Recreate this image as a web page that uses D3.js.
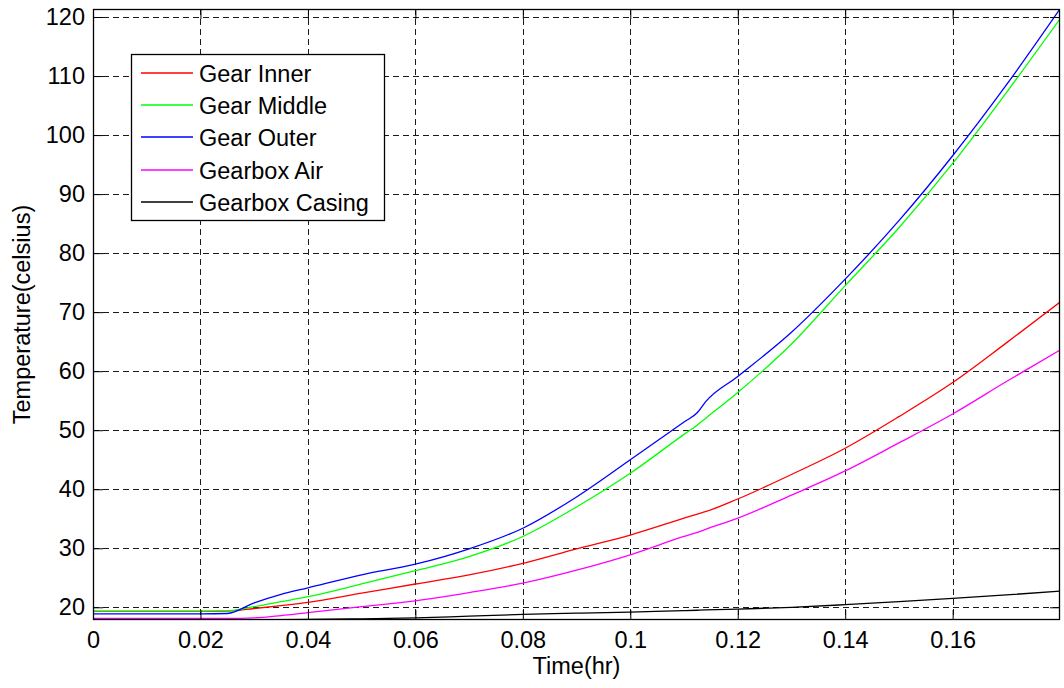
<!DOCTYPE html>
<html>
<head>
<meta charset="utf-8">
<script src="https://cdn.jsdelivr.net/npm/d3@7"></script>
<style>
  html, body { margin: 0; padding: 0; background: #fff; }
  svg { display: block; }
  text { font-family: "Liberation Sans", Arial, Helvetica, sans-serif; fill: #000; }
</style>
</head>
<body>
<svg id="chart" width="1064" height="688"></svg>
<script>
// Sample times (hours) shared by all temperature traces
const timeHr = [0, 0.01, 0.02, 0.025, 0.03, 0.035, 0.04, 0.05, 0.06, 0.07, 0.08, 0.09,
  0.1, 0.11, 0.1125, 0.114, 0.12, 0.13, 0.14, 0.15, 0.16, 0.17, 0.18];

// Temperatures (celsius)
const gearInner = [19.3, 19.3, 19.3, 19.35, 19.8, 20.3, 20.85, 22.4, 23.95, 25.5, 27.45, 29.9,
  32.25, 35.1, 35.8, 36.2, 38.35, 42.5, 46.95, 52.3, 58.07, 64.8, 71.7];
const gearMiddle = [19.37, 19.37, 19.37, 19.4, 20.1, 20.95, 21.8, 23.95, 26.2, 28.6, 32.0, 37.0,
  42.7, 49.3, 50.9, 52.0, 56.4, 64.6, 74.5, 84.3, 95.2, 107.2, 119.7];
const gearOuter = [18.9, 18.9, 18.9, 18.95, 20.75, 22.2, 23.3, 25.5, 27.3, 29.9, 33.4, 38.7,
  45.0, 51.4, 53.0, 54.8, 59.1, 66.6, 75.6, 85.5, 96.5, 108.5, 121.4];
const gearboxAir = [18.1, 18.1, 18.1, 18.1, 18.2, 18.6, 19.1, 20.1, 21.1, 22.5, 24.1, 26.3,
  28.9, 32.0, 32.7, 33.2, 35.1, 39.0, 43.1, 47.85, 52.75, 58.25, 63.6];
const gearboxCasing = [17.9, 17.9, 17.9, 17.9, 17.9, 17.92, 17.95, 18.05, 18.2, 18.5, 18.8, 19.0,
  19.2, 19.45, 19.5, 19.55, 19.7, 20.0, 20.45, 20.95, 21.5, 22.1, 22.75];

const seriesNames = ["Gear Inner", "Gear Middle", "Gear Outer", "Gearbox Air", "Gearbox Casing"];
const seriesColors = ["#ff0000", "#00ff00", "#0000ff", "#ff00ff", "#000000"];
const seriesValues = [gearInner, gearMiddle, gearOuter, gearboxAir, gearboxCasing];

const xTicks = [0, 0.02, 0.04, 0.06, 0.08, 0.1, 0.12, 0.14, 0.16];
const yTicks = [20, 30, 40, 50, 60, 70, 80, 90, 100, 110, 120];

(function drawChart() {
  const svg = d3.select("#chart");
  const plotL = 93, plotR = 1060, plotT = 9, plotB = 620;
  const fontSize = 23.5;

  const x = d3.scaleLinear().domain([0, 0.17998]).range([plotL, plotR]);
  const y = d3.scaleLinear().domain([17.85, 121.36]).range([plotB, plotT]);

  svg.append("defs").append("clipPath").attr("id", "plotArea")
    .append("rect").attr("x", plotL).attr("y", plotT)
    .attr("width", plotR - plotL).attr("height", plotB - plotT);

  // Dashed grid
  const grid = svg.append("g").attr("stroke", "#1a1a1a").attr("stroke-width", 1)
    .attr("stroke-dasharray", "6,4").attr("fill", "none");
  xTicks.filter(t => t > 0).forEach(t => {
    const px = Math.round(x(t)) + 0.5;
    grid.append("line").attr("x1", px).attr("x2", px).attr("y1", plotT).attr("y2", plotB);
  });
  yTicks.forEach(t => {
    const py = Math.round(y(t)) + 0.5;
    grid.append("line").attr("x1", plotL).attr("x2", plotR).attr("y1", py).attr("y2", py);
  });

  // Data traces
  const line = d3.line().curve(d3.curveMonotoneX).x(d => x(d[0])).y(d => y(d[1]));
  const traces = svg.append("g").attr("clip-path", "url(#plotArea)");
  seriesValues.forEach((vals, i) => {
    traces.append("path")
      .datum(timeHr.map((t, k) => [t, vals[k]]))
      .attr("d", line)
      .attr("fill", "none")
      .attr("stroke", seriesColors[i])
      .attr("stroke-width", 1.3);
  });

  // Axes with inward ticks on all four sides
  const tickLen = 10;
  const xAxisB = d3.axisBottom(x).tickValues(xTicks).tickSize(-tickLen).tickPadding(11)
    .tickFormat(d => String(+d.toFixed(2)));
  const xAxisT = d3.axisTop(x).tickValues(xTicks).tickSize(-tickLen).tickFormat("");
  const yAxisL = d3.axisLeft(y).tickValues(yTicks).tickSize(-tickLen).tickPadding(8);
  const yAxisR = d3.axisRight(y).tickValues(yTicks).tickSize(-tickLen).tickFormat("");

  function styleAxis(g) {
    g.select(".domain").remove();
    g.selectAll(".tick line").attr("stroke", "#000").attr("stroke-width", 1);
    g.selectAll("text").attr("font-size", fontSize)
      .attr("font-family", "'Liberation Sans', Arial, sans-serif").attr("fill", "#000");
  }
  svg.append("g").attr("transform", `translate(0,${plotB})`).call(xAxisB).call(styleAxis);
  svg.append("g").attr("transform", `translate(0,${plotT})`).call(xAxisT).call(styleAxis);
  svg.append("g").attr("transform", `translate(${plotL},0)`).call(yAxisL).call(styleAxis);
  svg.append("g").attr("transform", `translate(${plotR},0)`).call(yAxisR).call(styleAxis);

  // Plot frame
  svg.append("rect").attr("x", plotL + 0.5).attr("y", plotT + 0.5)
    .attr("width", plotR - plotL - 1).attr("height", plotB - plotT - 1)
    .attr("fill", "none").attr("stroke", "#000").attr("stroke-width", 1.3);

  // Axis titles
  svg.append("text").attr("x", (plotL + plotR) / 2).attr("y", 674)
    .attr("text-anchor", "middle").attr("font-size", fontSize).text("Time(hr)");
  svg.append("text")
    .attr("transform", `translate(30,${(plotT + plotB) / 2}) rotate(-90)`)
    .attr("text-anchor", "middle").attr("font-size", fontSize).text("Temperature(celsius)");

  // Legend
  const legend = svg.append("g");
  legend.append("rect").attr("x", 131.5).attr("y", 54.5).attr("width", 253).attr("height", 166)
    .attr("fill", "#fff").attr("stroke", "#000").attr("stroke-width", 1.3);
  seriesNames.forEach((name, i) => {
    const ly = Math.round(73 + i * 32.2);
    legend.append("line").attr("x1", 141).attr("x2", 193).attr("y1", ly).attr("y2", ly)
      .style("stroke", seriesColors[i]).attr("stroke-width", 1.6);
    legend.append("text").attr("x", 199).attr("y", ly + 9)
      .attr("font-size", fontSize).text(name);
  });
})();
</script>
</body>
</html>
